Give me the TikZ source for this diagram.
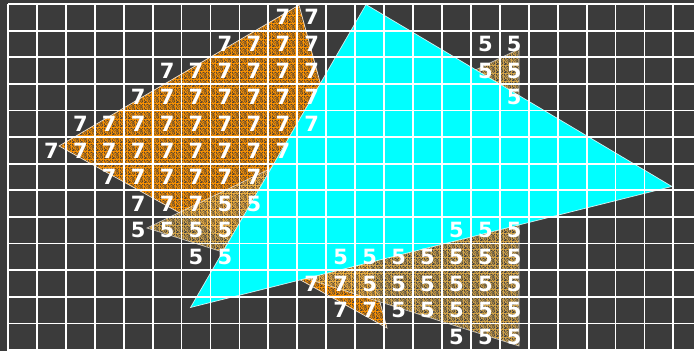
\documentclass[tikz,border=0pt]{standalone}
\usepackage{fontspec}
\newfontfamily\digitfont{DejaVu Sans}
\usetikzlibrary{patterns}
\definecolor{bgc}{HTML}{3B3B3B}
\definecolor{cyanc}{HTML}{00FFFF}
\definecolor{orangeA}{HTML}{FF9400}
\definecolor{speckA}{HTML}{5A4630}
\definecolor{orangeB}{HTML}{FFC24E}
\definecolor{speckB}{HTML}{4A4844}
\newcommand\spk[2]{\pgfpathrectangle{\pgfqpoint{#1pt}{#2pt}}{\pgfqpoint{1pt}{1pt}}}
\pgfdeclarepatternformonly{speckle}{\pgfqpoint{0pt}{0pt}}{\pgfqpoint{8pt}{8pt}}{\pgfqpoint{8pt}{8pt}}{%
  \spk{0}{0}\spk{1}{0}\spk{3}{0}\spk{6}{0}%
  \spk{1}{1}\spk{2}{1}\spk{5}{1}\spk{7}{1}%
  \spk{0}{2}\spk{4}{2}\spk{7}{2}%
  \spk{0}{3}\spk{2}{3}\spk{5}{3}\spk{6}{3}%
  \spk{3}{4}\spk{5}{4}\spk{7}{4}%
  \spk{1}{5}\spk{4}{5}\spk{6}{5}%
  \spk{0}{6}\spk{2}{6}\spk{5}{6}\spk{6}{6}%
  \spk{0}{7}\spk{3}{7}\spk{4}{7}\spk{7}{7}%
  \pgfusepath{fill}}
\begin{document}
\begin{tikzpicture}[x=1pt,y=-1pt,
  gridline/.style={draw=white,line width=1.8pt},
  edge/.style={draw=white,draw opacity=0.8,line width=0.7pt},
  lbl/.style={text=white,inner sep=0pt,font=\digitfont\bfseries\fontsize{21}{21}\selectfont}]
\useasboundingbox (0,0) rectangle (694,351);
\fill[bgc] (0,0) rectangle (694,351);
% triangle of depth 7
\coordinate (p1) at (299,5);
\coordinate (p2) at (59,146);
\coordinate (p3) at (387,328);
\fill[orangeA] (p1) -- (p2) -- (p3) -- cycle;
\fill[pattern=speckle,pattern color=speckA] (p1) -- (p2) -- (p3) -- cycle;
\path[edge] (p1) -- (p2) -- (p3) -- cycle;
% triangle of depth 5
\coordinate (q1) at (147,228);
\coordinate (q2) at (519,49);
\coordinate (q3) at (519,346);
\begin{scope}[transparency group,opacity=0.8]
\fill[orangeB] (q1) -- (q2) -- (q3) -- cycle;
\fill[pattern=speckle,pattern color=speckB] (q1) -- (q2) -- (q3) -- cycle;
\path[edge] (q1) -- (q2) -- (q3) -- cycle;
\end{scope}
% cyan triangle
\coordinate (c1) at (366,4.5);
\coordinate (c2) at (672,186.5);
\coordinate (c3) at (190.5,307.5);
\fill[cyanc] (c1) -- (c2) -- (c3) -- cycle;
\path[edge] (c1) -- (c2) -- (c3) -- cycle;
% grid
\foreach \i in {0,...,24} \path[gridline] ({8+28.93*\i},4) -- ({8+28.93*\i},351);
\foreach \j in {0,...,13} \path[gridline] (8,{4+26.62*\j}) -- (694,{4+26.62*\j});
% depth labels
\foreach \r/\a/\b/\d in {0/9/10/7, 1/7/10/7, 1/16/17/5, 2/5/10/7, 2/16/17/5,
  3/4/10/7, 3/17/17/5, 4/2/10/7, 5/1/9/7, 6/3/8/7, 7/4/6/7, 7/7/8/5,
  8/4/7/5, 8/15/17/5, 9/6/7/5, 9/11/17/5, 10/10/11/7, 10/12/17/5,
  11/11/12/7, 11/13/17/5, 12/15/17/5}
  \foreach \c in {\a,...,\b}
    \node[lbl] (n\c-\r) at ({8+28.93*(\c+0.5)},{4+26.62*(\r+0.5)}) {\d};
\end{tikzpicture}
\end{document}
